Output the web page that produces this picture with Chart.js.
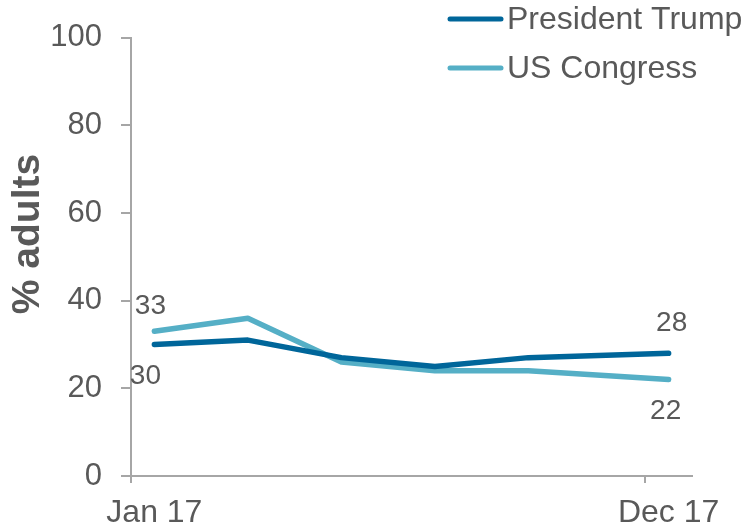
<!DOCTYPE html>
<html>
<head>
<meta charset="utf-8">
<script src="https://cdn.jsdelivr.net/npm/chart.js@4/dist/chart.umd.min.js"></script>
<style>
    html, body { margin: 0; padding: 0; background: #fff; }
    #wrap { width: 746px; height: 530px; position: relative; }
</style>
</head>
<body>
<div id="wrap"><canvas id="chart"></canvas></div>
<script>
// ── data ──
const months = ['Jan 17', 'Feb 17', 'Mar 17', 'Apr 17', 'May 17', 'Jun 17',
                'Jul 17', 'Aug 17', 'Sep 17', 'Oct 17', 'Nov 17', 'Dec 17'];
const shownLabels = ['Jan 17', 'Dec 17'];
const trump    = [30, null, 31, null, 27, null, 25, null, 27, null, null, 28];
const congress = [33, null, 36, null, 26, null, 24, null, 24, null, null, 22];
const yTicks = [0, 20, 40, 60, 80, 100];
const yTitle = '% adults';

const TEXT = '#595959';
const AXIS = '#A6A6A6';
const FONT = '"Liberation Sans", Arial, sans-serif';

// end-point value labels (first and last point of each line)
const valueLabels = {
    id: 'valueLabels',
    afterDatasetsDraw(chart) {
        const ctx = chart.ctx;
        ctx.save();
        ctx.font = '28px ' + FONT;
        ctx.fillStyle = TEXT;
        ctx.textAlign = 'center';
        ctx.textBaseline = 'middle';
        // [dataset, index, dx, dy]
        const spots = [[1, 0, -4, -25], [0, 0, -9, 32], [0, 11, 3, -30], [1, 11, -3, 32]];
        spots.forEach(([ds, i, dx, dy]) => {
            const pt = chart.getDatasetMeta(ds).data[i];
            const v = chart.data.datasets[ds].data[i];
            ctx.fillText(String(v), pt.x + dx, pt.y + dy);
        });
        ctx.restore();
    }
};

// legend in the top right corner overlapping the plot, plus the rotated y title
const cornerLegend = {
    id: 'cornerLegend',
    afterDraw(chart) {
        const ctx = chart.ctx;
        ctx.save();
        ctx.font = '32px ' + FONT;
        ctx.textBaseline = 'middle';
        ctx.lineCap = 'round';
        chart.data.datasets.forEach((ds, k) => {
            const y = 19 + k * 49;
            ctx.strokeStyle = ds.borderColor;
            ctx.lineWidth = 5;
            ctx.beginPath();
            ctx.moveTo(450, y);
            ctx.lineTo(501, y);
            ctx.stroke();
            ctx.fillStyle = TEXT;
            ctx.fillText(ds.label, 507, y + 1);
        });

        ctx.translate(28, 234);
        ctx.rotate(-Math.PI / 2);
        ctx.font = 'bold 39px ' + FONT;
        ctx.textAlign = 'center';
        ctx.fillText(yTitle, 0, 0);
        ctx.restore();
    }
};

new Chart(document.getElementById('chart'), {
    type: 'line',
    data: {
        labels: months,
        datasets: [
            { label: 'President Trump', data: trump, borderColor: '#00669A', borderWidth: 5.5 },
            { label: 'US Congress', data: congress, borderColor: '#55AFC6', borderWidth: 5.5 }
        ]
    },
    options: {
        responsive: true,
        maintainAspectRatio: false,
        animation: false,
        spanGaps: true,
        elements: { point: { radius: 0 }, line: { tension: 0, borderCapStyle: 'round', borderJoinStyle: 'round' } },
        layout: { padding: { top: 37, right: 54, left: 0, bottom: 0 } },
        plugins: { legend: { display: false }, tooltip: { enabled: false } },
        scales: {
            x: {
                offset: true,
                afterFit(s) { s.height = 54; },
                border: { display: true, color: AXIS, width: 2 },
                grid: {
                    offset: true,
                    drawOnChartArea: false,
                    drawTicks: true,
                    tickLength: 7,
                    lineWidth: 2,
                    color: c => (c.index === 0 || c.index === 11) ? AXIS : 'rgba(0,0,0,0)'
                },
                ticks: {
                    autoSkip: false,
                    maxRotation: 0,
                    padding: 11,
                    color: TEXT,
                    font: { family: FONT, size: 32 },
                    callback(v, i) { return shownLabels.includes(months[i]) ? months[i] : ''; }
                }
            },
            y: {
                min: yTicks[0],
                max: yTicks[yTicks.length - 1],
                afterFit(s) { s.width = 131; },
                afterBuildTicks(s) { s.ticks = yTicks.map(v => ({ value: v })); },
                border: { display: true, color: AXIS, width: 2 },
                grid: { drawOnChartArea: false, drawTicks: true, tickLength: 10, lineWidth: 2, color: AXIS },
                ticks: { padding: 19, color: TEXT, font: { family: FONT, size: 31 } }
            }
        }
    },
    plugins: [valueLabels, cornerLegend]
});
</script>
</body>
</html>
